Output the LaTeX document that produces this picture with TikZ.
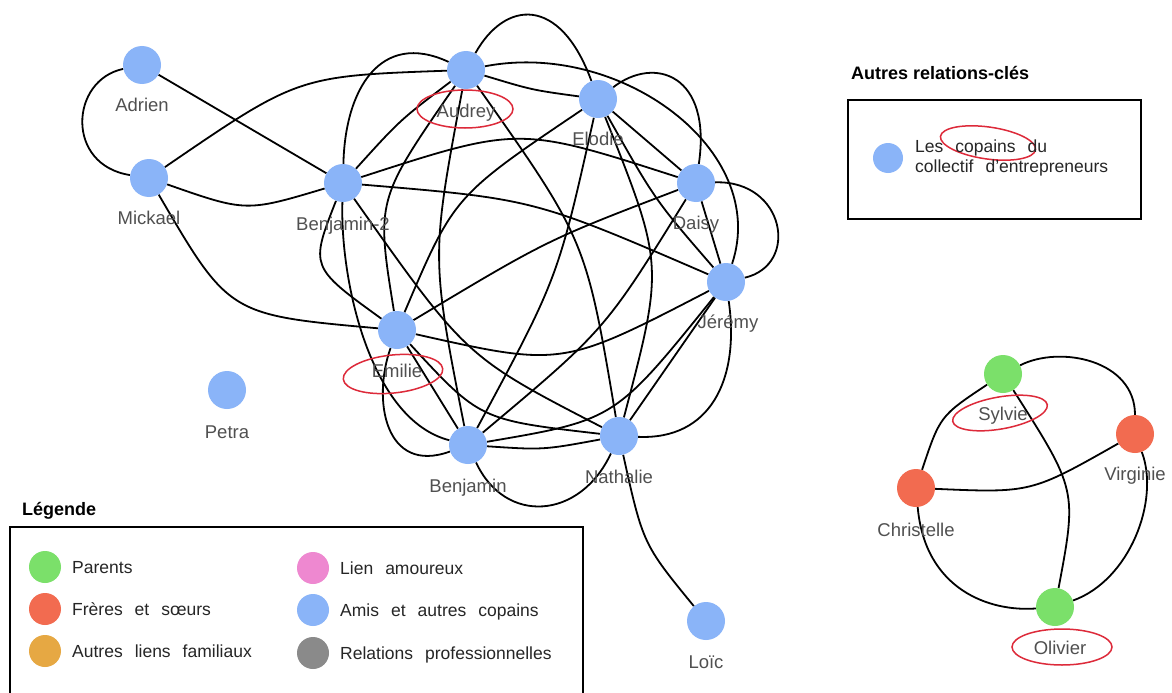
\documentclass[tikz,border=0pt]{standalone}
\usepackage{fontspec}
\setmainfont{Liberation Sans}
\usetikzlibrary{backgrounds}
\definecolor{nblue}{HTML}{8AB4F8}
\definecolor{ngreen}{HTML}{7BE06A}
\definecolor{nred}{HTML}{F26B50}
\definecolor{norange}{HTML}{E6A843}
\definecolor{npink}{HTML}{EE88D0}
\definecolor{ngray}{HTML}{8A8A8A}
\definecolor{lblgray}{HTML}{505050}
\definecolor{ellred}{HTML}{DD2A3A}
\newcommand{\ws}{\hspace{12pt}}
\begin{document}
\begin{tikzpicture}[x=1pt,y=-1pt,
  person/.style={circle, fill=nblue, minimum size=38pt, inner sep=0pt},
  parent/.style={person, fill=ngreen},
  sibling/.style={person, fill=nred},
  lbl/.style={anchor=base, text=lblgray, inner sep=0pt, font=\fontsize{18.5}{20}\selectfont},
  ltxt/.style={anchor=base west, text=black!85, inner sep=0pt, font=\fontsize{17.5}{20}\selectfont},
  ttl/.style={anchor=base west, inner sep=0pt, font=\bfseries\fontsize{18}{20}\selectfont},
  ldot/.style={circle, minimum size=32pt, inner sep=0pt},
  edge/.style={line width=1.8pt, black},
  boxline/.style={line width=2pt, black},
  redell/.style={line width=1.5pt, ellred}]
\useasboundingbox (0,0) rectangle (1172,693);
% nodes
\node[person] (A) at (142,65) {};
\node[person] (M) at (149,178) {};
\node[person] (B2) at (343,183) {};
\node[person] (Au) at (466,70) {};
\node[person] (El) at (598,99) {};
\node[person] (D) at (696,183) {};
\node[person] (J) at (726,282) {};
\node[person] (Em) at (397,330) {};
\node[person] (B) at (468,445) {};
\node[person] (N) at (619,436) {};
\node[person] (P) at (227,390) {};
\node[person] (L) at (706,621) {};
\node[parent] (S) at (1003,374) {};
\node[sibling] (V) at (1135,434) {};
\node[sibling] (C) at (916,488) {};
\node[parent] (O) at (1055,607) {};
% labels
\node[lbl] (Alab) at (142,111) {Adrien};
\node[lbl] (Mlab) at (149,224) {Mickael};
\node[lbl] (B2lab) at (343,230) {Benjamin-2};
\node[lbl] (Aulab) at (466,117) {Audrey};
\node[lbl] (Ellab) at (598,145) {Elodie};
\node[lbl] (Dlab) at (696,229) {Daisy};
\node[lbl] (Jlab) at (728,328) {Jérémy};
\node[lbl] (Emlab) at (397,377) {Emilie};
\node[lbl] (Blab) at (468,492) {Benjamin};
\node[lbl] (Nlab) at (619,483) {Nathalie};
\node[lbl] (Plab) at (227,438) {Petra};
\node[lbl] (Llab) at (706,668) {Loïc};
\node[lbl] (Slab) at (1003,420) {Sylvie};
\node[lbl] (Vlab) at (1135,480) {Virginie};
\node[lbl] (Clab) at (916,536) {Christelle};
\node[lbl] (Olab) at (1060,654) {Olivier};
% edges
\begin{scope}[on background layer]
\fill[white] (0,0) rectangle (1172,693);
\draw[edge] (A) .. controls (70,80) and (65,165) .. (M);
\draw[edge] (A) -- (B2);
\draw[edge] (M) .. controls (246,212) .. (B2);
\draw[edge] (M) .. controls (298,76) .. (Au);
\draw[edge] (M) .. controls (229,315) .. (Em);
\draw[edge] (N) .. controls (643,544) .. (L);
\draw[edge] (B2) .. controls (345,90) and (380,30) .. (Au);
\draw[edge] (B2) .. controls (400,120) .. (Au);
\draw[edge] (B2) .. controls (310,267) .. (Em);
\draw[edge] (B2) .. controls (340,280) and (370,420) .. (B);
\draw[edge] (B2) .. controls (466,357) .. (N);
\draw[edge] (B2) .. controls (534,199) .. (J);
\draw[edge] (B2) .. controls (519,126) .. (D);
\draw[edge] (Au) .. controls (505,0) and (560,-5) .. (El);
\draw[edge] (Au) .. controls (532,90) .. (El);
\draw[edge] (Au) .. controls (620,40) and (770,150) .. (J);
\draw[edge] (Au) .. controls (586,240) .. (N);
\draw[edge] (Au) .. controls (431,257) .. (B);
\draw[edge] (Au) .. controls (376,200) .. (Em);
\draw[edge] (El) .. controls (655,55) and (712,75) .. (D);
\draw[edge] (El) -- (D);
\draw[edge] (El) .. controls (454,196) .. (Em);
\draw[edge] (El) .. controls (558,278) .. (B);
\draw[edge] (El) .. controls (664,265) .. (N);
\draw[edge] (El) .. controls (655,200) .. (J);
\draw[edge] (D) .. controls (785,180) and (800,265) .. (J);
\draw[edge] (D) -- (J);
\draw[edge] (D) .. controls (547,240) .. (Em);
\draw[edge] (D) .. controls (605,330) .. (B);
\draw[edge] (J) .. controls (562,367) .. (Em);
\draw[edge] (J) .. controls (615,420) .. (B);
\draw[edge] (J) -- (N);
\draw[edge] (N) .. controls (710,440) and (740,380) .. (J);
\draw[edge] (Em) .. controls (372,400) and (385,475) .. (B);
\draw[edge] (Em) -- (B);
\draw[edge] (Em) .. controls (480,420) .. (N);
\draw[edge] (B) .. controls (543,450) .. (N);
\draw[edge] (B) .. controls (505,525) and (580,520) .. (N);
\draw[edge] (S) .. controls (1060,345) and (1135,360) .. (V);
\draw[edge] (S) .. controls (940,416) .. (C);
\draw[edge] (S) .. controls (1077,490) .. (O);
\draw[edge] (C) .. controls (1031,493) .. (V);
\draw[edge] (C) .. controls (925,590) and (990,612) .. (O);
\draw[edge] (V) .. controls (1160,500) and (1130,580) .. (O);
\end{scope}
% red ellipses
\draw[redell] (465,109) ellipse [x radius=48, y radius=19];
\draw[redell, rotate around={6:(393,374)}] (393,374) ellipse [x radius=50, y radius=19];
\draw[redell, rotate around={10:(1000,413)}] (1000,413) ellipse [x radius=48, y radius=16];
\draw[redell] (1062,647) ellipse [x radius=50, y radius=18];
\draw[redell, rotate around={-8:(988,143)}] (988,143) ellipse [x radius=48, y radius=16];
% key relations box
\node[ttl] (krt) at (851,79) {Autres relations-clés};
\draw[boxline] (848,100) rectangle (1141,219);
\node[ldot, fill=nblue, minimum size=30pt] (kd) at (888,158) {};
\node[ltxt] (kt1) at (915,152) {Les\ws copains\ws du};
\node[ltxt] (kt2) at (915,172) {collectif\ws d'entrepreneurs};
% legend
\node[ttl] (legt) at (22,515) {Légende};
\draw[boxline] (10,527) rectangle (583,720);
\node[ldot, fill=ngreen] (lg1) at (45,567) {};
\node[ldot, fill=nred] (lg2) at (45,609) {};
\node[ldot, fill=norange] (lg3) at (45,651) {};
\node[ldot, fill=npink] (lg4) at (313,568) {};
\node[ldot, fill=nblue] (lg5) at (313,610) {};
\node[ldot, fill=ngray] (lg6) at (313,653) {};
\node[ltxt] (lt1) at (72,573) {Parents};
\node[ltxt] (lt2) at (72,615) {Frères\ws et\ws sœurs};
\node[ltxt] (lt3) at (72,657) {Autres\ws liens\ws familiaux};
\node[ltxt] (lt4) at (340,574) {Lien\ws amoureux};
\node[ltxt] (lt5) at (340,616) {Amis\ws et\ws autres\ws copains};
\node[ltxt] (lt6) at (340,659) {Relations\ws professionnelles};
\end{tikzpicture}
\end{document}
